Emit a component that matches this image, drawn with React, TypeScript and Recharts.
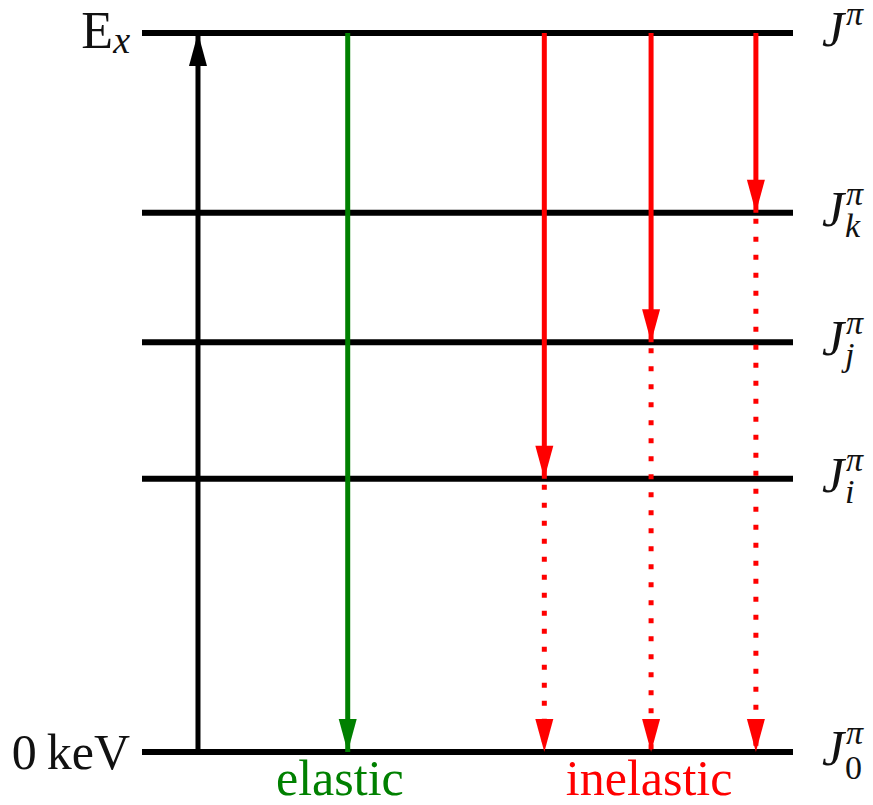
import { ComposedChart, XAxis, YAxis, ReferenceLine, Scatter } from "recharts";

const FONT = '"Liberation Serif", "Times New Roman", serif';

// energy levels (arbitrary units, Ex = 100)
const levelEnergy = [0, 38, 57, 75, 100];
const levelSpin = ["0", "i", "j", "k", ""];

// transitions: column position, start level, where the solid arrow ends
const columnX = [8.6, 31.6, 61.8, 78.2, 94.3];
const startE = [0, 100, 100, 100, 100];
const feedE = [100, 0, 38, 57, 75];
const columnColor = ["#000000", "#008000", "#ff0000", "#ff0000", "#ff0000"];

// group labels under the ground state
const groupLabel = ["elastic", "inelastic"];
const groupX = [30.4, 77.9];
const groupColor = ["#008000", "#ff0000"];

const heads = columnX.flatMap((x, i) => {
  const dir = feedE[i] > startE[i] ? "up" : "down";
  const list = [{ x, e: feedE[i], dir, color: columnColor[i] }];
  if (feedE[i] > 0 && startE[i] > feedE[i]) list.push({ x, e: 0, dir: "down", color: columnColor[i] });
  return list;
});

function ArrowHead(props: any) {
  const { cx, cy, payload } = props;
  const w = 9;
  const h = 33;
  const s = payload.dir === "up" ? 1 : -1;
  return (
    <polygon
      points={`${cx},${cy} ${cx - w},${cy + s * h} ${cx + w},${cy + s * h}`}
      fill={payload.color}
    />
  );
}

function LeftTick(props: any) {
  const { x, y, payload } = props;
  if (payload.value === 0) {
    return (
      <text x={x - 12} y={y + 17} textAnchor="end" fontFamily={FONT} fontSize={50} fill="#111">
        0{"\u2009"}keV
      </text>
    );
  }
  return (
    <text x={x - 12} y={y + 15} textAnchor="end" fontFamily={FONT} fontSize={52} fill="#111">
      <tspan>E</tspan>
      <tspan fontStyle="italic" fontSize={38} dy={5}>x</tspan>
    </text>
  );
}

function SpinLabel(props: any) {
  const { viewBox, sub } = props;
  if (!viewBox) return null;
  const x0 = viewBox.x + viewBox.width + 29;
  const y = viewBox.y;
  return (
    <text fontFamily={FONT} fill="#111" fontStyle="italic">
      <tspan x={x0} y={y + 13} fontSize={50}>J</tspan>
      <tspan x={x0 + 24} y={y - 8} fontSize={34}>π</tspan>
      {sub && (
        <tspan x={x0 + 23} y={y + (sub === "0" ? 27 : 24)} fontSize={34} fontStyle={sub === "0" ? "normal" : "italic"}>
          {sub}
        </tspan>
      )}
    </text>
  );
}

function BottomTick(props: any) {
  const { x, y, payload } = props;
  const idx = groupX.indexOf(payload.value);
  return (
    <text x={x} y={y + 43} textAnchor="middle" fontFamily={FONT} fontSize={50} fill={groupColor[idx]}>
      {groupLabel[idx]}
    </text>
  );
}

export default function App() {
  return (
    <div style={{ position: "absolute", left: 0, top: 0, width: 873, height: 805 }}>
      <ComposedChart
        width={873}
        height={805}
        margin={{ top: 33, right: 80, bottom: 0, left: 0 }}
        style={{ overflow: "visible" }}
      >
        <XAxis
          type="number"
          dataKey="x"
          domain={[0, 100]}
          ticks={groupX}
          interval={0}
          height={53}
          axisLine={false}
          tickLine={false}
          tickSize={0}
          tickMargin={0}
          tick={<BottomTick />}
        />
        <YAxis
          type="number"
          dataKey="e"
          domain={[0, 100]}
          ticks={[0, 100]}
          interval={0}
          width={142}
          axisLine={false}
          tickLine={false}
          tickSize={0}
          tickMargin={0}
          tick={<LeftTick />}
        />
        {levelEnergy.map((e, i) => (
          <ReferenceLine
            key={`lvl-${e}`}
            y={e}
            stroke="#000"
            strokeWidth={6}
            label={<SpinLabel sub={levelSpin[i]} />}
          />
        ))}
        {columnX.map((x, i) => (
          <ReferenceLine
            key={`solid-${i}`}
            segment={[{ x, y: startE[i] }, { x, y: feedE[i] }]}
            stroke={columnColor[i]}
            strokeWidth={5}
          />
        ))}
        {columnX.map((x, i) =>
          feedE[i] > 0 && startE[i] > feedE[i] ? (
            <ReferenceLine
              key={`dot-${i}`}
              segment={[{ x, y: feedE[i] }, { x, y: 0 }]}
              stroke={columnColor[i]}
              strokeWidth={5}
              strokeDasharray="5 13"
              strokeDashoffset={-6}
            />
          ) : null
        )}
        <Scatter data={heads} dataKey="e" shape={<ArrowHead />} isAnimationActive={false} />
      </ComposedChart>
    </div>
  );
}
